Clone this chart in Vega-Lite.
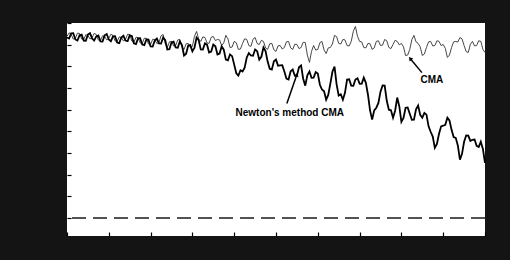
{
  "$schema": "https://vega.github.io/schema/vega-lite/v6.json",
  "width": 418,
  "height": 213,
  "autosize": {"type": "none"},
  "padding": {"left": 67, "top": 23, "right": 25, "bottom": 24},
  "background": "#141414",
  "config": {
    "view": {"fill": "white", "stroke": null},
    "font": "Liberation Sans",
    "axis": {"labels": false, "domain": false, "grid": false, "tickSize": -4, "tickColor": "#000", "tickWidth": 1.2, "title": null, "tickCount": 10}
  },
  "datasets": {
    "series": [
      {"x":0,"CMA":8.38,"Newton":8.33},{"x":1,"CMA":8.47,"Newton":8.52},{"x":2,"CMA":8.29,"Newton":8.24},{"x":3,"CMA":8.52,"Newton":8.43},
      {"x":4,"CMA":8.24,"Newton":8.19},{"x":5,"CMA":8.43,"Newton":8.47},{"x":6,"CMA":8.33,"Newton":8.29},{"x":7,"CMA":8.47,"Newton":8.38},
      {"x":8,"CMA":8.19,"Newton":8.15},{"x":9,"CMA":8.38,"Newton":8.43},{"x":10,"CMA":8.29,"Newton":8.24},{"x":11,"CMA":8.43,"Newton":8.38},
      {"x":12,"CMA":8.15,"Newton":8.10},{"x":13,"CMA":8.33,"Newton":8.33},{"x":14,"CMA":8.24,"Newton":8.19},{"x":15,"CMA":8.47,"Newton":8.43},
      {"x":16,"CMA":8.10,"Newton":8.06},{"x":17,"CMA":8.33,"Newton":8.29},{"x":18,"CMA":8.06,"Newton":8.01},{"x":19,"CMA":8.29,"Newton":8.24},
      {"x":20,"CMA":8.01,"Newton":7.92},{"x":21,"CMA":8.24,"Newton":8.19},{"x":22,"CMA":8.10,"Newton":8.06},{"x":23,"CMA":8.47,"Newton":8.33},
      {"x":24,"CMA":7.87,"Newton":7.78},{"x":25,"CMA":8.15,"Newton":8.10},{"x":26,"CMA":7.96,"Newton":7.87},{"x":27,"CMA":8.24,"Newton":8.15},
      {"x":28,"CMA":7.78,"Newton":7.50},{"x":29,"CMA":8.06,"Newton":7.96},{"x":30,"CMA":7.92,"Newton":7.69},{"x":31,"CMA":8.61,"Newton":8.33},
      {"x":32,"CMA":8.15,"Newton":7.78},{"x":33,"CMA":8.33,"Newton":8.06},{"x":34,"CMA":8.06,"Newton":7.64},{"x":35,"CMA":8.38,"Newton":8.01},
      {"x":36,"CMA":8.24,"Newton":7.55},{"x":37,"CMA":7.96,"Newton":7.92},{"x":38,"CMA":8.43,"Newton":7.31},{"x":39,"CMA":7.87,"Newton":7.55},
      {"x":40,"CMA":8.15,"Newton":7.08},{"x":41,"CMA":7.78,"Newton":6.57},{"x":42,"CMA":8.06,"Newton":6.76},{"x":43,"CMA":8.24,"Newton":7.41},
      {"x":44,"CMA":7.92,"Newton":7.50},{"x":45,"CMA":8.33,"Newton":7.78},{"x":46,"CMA":8.01,"Newton":7.31},{"x":47,"CMA":8.15,"Newton":7.87},
      {"x":48,"CMA":7.78,"Newton":7.22},{"x":49,"CMA":8.06,"Newton":6.85},{"x":50,"CMA":7.69,"Newton":7.31},{"x":51,"CMA":7.96,"Newton":7.04},
      {"x":52,"CMA":7.87,"Newton":6.76},{"x":53,"CMA":8.15,"Newton":6.39},{"x":54,"CMA":7.78,"Newton":6.85},{"x":55,"CMA":8.01,"Newton":6.57},
      {"x":56,"CMA":7.87,"Newton":7.04},{"x":57,"CMA":8.10,"Newton":6.11},{"x":58,"CMA":7.18,"Newton":6.76},{"x":59,"CMA":7.96,"Newton":6.48},
      {"x":60,"CMA":7.78,"Newton":6.67},{"x":61,"CMA":8.15,"Newton":5.93},{"x":62,"CMA":7.59,"Newton":5.46},{"x":63,"CMA":7.87,"Newton":6.20},
      {"x":64,"CMA":8.43,"Newton":6.99},{"x":65,"CMA":8.06,"Newton":5.65},{"x":66,"CMA":8.24,"Newton":5.46},{"x":67,"CMA":7.96,"Newton":6.39},
      {"x":68,"CMA":8.15,"Newton":6.11},{"x":69,"CMA":8.84,"Newton":6.39},{"x":70,"CMA":8.15,"Newton":6.20},{"x":71,"CMA":7.87,"Newton":6.48},
      {"x":72,"CMA":8.06,"Newton":5.69},{"x":73,"CMA":7.78,"Newton":4.54},{"x":74,"CMA":8.15,"Newton":5.09},{"x":75,"CMA":7.96,"Newton":5.83},
      {"x":76,"CMA":8.24,"Newton":6.11},{"x":77,"CMA":7.87,"Newton":5.00},{"x":78,"CMA":8.01,"Newton":4.63},{"x":79,"CMA":8.15,"Newton":5.56},
      {"x":80,"CMA":8.06,"Newton":4.44},{"x":81,"CMA":7.50,"Newton":5.09},{"x":82,"CMA":7.78,"Newton":4.81},{"x":83,"CMA":8.43,"Newton":4.54},
      {"x":84,"CMA":8.06,"Newton":5.19},{"x":85,"CMA":7.50,"Newton":4.63},{"x":86,"CMA":7.87,"Newton":4.77},{"x":87,"CMA":8.15,"Newton":3.98},
      {"x":88,"CMA":7.96,"Newton":3.24},{"x":89,"CMA":8.15,"Newton":3.89},{"x":90,"CMA":8.01,"Newton":4.26},{"x":91,"CMA":7.41,"Newton":4.63},
      {"x":92,"CMA":7.87,"Newton":4.07},{"x":93,"CMA":8.15,"Newton":3.70},{"x":94,"CMA":8.33,"Newton":2.69},{"x":95,"CMA":7.96,"Newton":3.52},
      {"x":96,"CMA":7.64,"Newton":3.80},{"x":97,"CMA":8.15,"Newton":3.61},{"x":98,"CMA":7.96,"Newton":3.33},{"x":99,"CMA":8.15,"Newton":3.52},
      {"x":100,"CMA":7.64,"Newton":2.55},
      {"x":0.5,"CMA":8.55,"Newton":8.28},{"x":1.5,"CMA":8.26,"Newton":8.53},{"x":2.5,"CMA":8.53,"Newton":8.19},{"x":3.5,"CMA":8.26,"Newton":8.46},
      {"x":4.5,"CMA":8.46,"Newton":8.18},{"x":5.5,"CMA":8.26,"Newton":8.53},{"x":6.5,"CMA":8.52,"Newton":8.19},{"x":7.5,"CMA":8.21,"Newton":8.42},
      {"x":8.5,"CMA":8.41,"Newton":8.14},{"x":9.5,"CMA":8.22,"Newton":8.49},{"x":10.5,"CMA":8.48,"Newton":8.16},{"x":11.5,"CMA":8.17,"Newton":8.39},
      {"x":12.5,"CMA":8.36,"Newton":8.07},{"x":13.5,"CMA":8.17,"Newton":8.41},{"x":14.5,"CMA":8.48,"Newton":8.16},{"x":15.5,"CMA":8.17,"Newton":8.40},
      {"x":16.5,"CMA":8.34,"Newton":8.03},{"x":17.5,"CMA":8.08,"Newton":8.30},{"x":18.5,"CMA":8.30,"Newton":7.98},{"x":19.5,"CMA":8.03,"Newton":8.23},
      {"x":20.5,"CMA":8.25,"Newton":7.91},{"x":21.5,"CMA":8.05,"Newton":8.28},{"x":22.5,"CMA":8.41,"Newton":8.05},{"x":23.5,"CMA":8.05,"Newton":8.21},
      {"x":24.5,"CMA":8.13,"Newton":7.79},{"x":25.5,"CMA":7.94,"Newton":8.14},{"x":26.5,"CMA":8.22,"Newton":7.86},{"x":27.5,"CMA":7.89,"Newton":7.98},
      {"x":28.5,"CMA":8.04,"Newton":7.58},{"x":29.5,"CMA":7.87,"Newton":7.98},{"x":30.5,"CMA":8.39,"Newton":7.86},{"x":31.5,"CMA":8.26,"Newton":8.21},
      {"x":32.5,"CMA":8.36,"Newton":7.77},{"x":33.5,"CMA":8.08,"Newton":8.00},{"x":34.5,"CMA":8.34,"Newton":7.68},{"x":35.5,"CMA":8.19,"Newton":7.93},
      {"x":36.5,"CMA":8.22,"Newton":7.59},{"x":37.5,"CMA":8.08,"Newton":7.77},{"x":38.5,"CMA":8.27,"Newton":7.28},{"x":39.5,"CMA":7.89,"Newton":7.47},
      {"x":40.5,"CMA":8.09,"Newton":6.68},{"x":41.5,"CMA":7.80,"Newton":6.82},{"x":42.5,"CMA":8.27,"Newton":6.94},{"x":43.5,"CMA":7.96,"Newton":7.61},
      {"x":44.5,"CMA":8.25,"Newton":7.49},{"x":45.5,"CMA":8.05,"Newton":7.70},{"x":46.5,"CMA":8.20,"Newton":7.44},{"x":47.5,"CMA":7.85,"Newton":7.70},
      {"x":48.5,"CMA":8.04,"Newton":6.89},{"x":49.5,"CMA":7.76,"Newton":7.23},{"x":50.5,"CMA":7.95,"Newton":7.03},{"x":51.5,"CMA":7.80,"Newton":7.05},
      {"x":52.5,"CMA":8.13,"Newton":6.43},{"x":53.5,"CMA":7.85,"Newton":6.77},{"x":54.5,"CMA":8.02,"Newton":6.56},{"x":55.5,"CMA":7.82,"Newton":6.96},
      {"x":56.5,"CMA":8.11,"Newton":6.43},{"x":57.5,"CMA":7.52,"Newton":6.59},{"x":58.5,"CMA":7.69,"Newton":6.47},{"x":59.5,"CMA":7.75,"Newton":6.73},
      {"x":60.5,"CMA":8.09,"Newton":6.15},{"x":61.5,"CMA":7.75,"Newton":5.85},{"x":62.5,"CMA":7.85,"Newton":5.68},{"x":63.5,"CMA":8.03,"Newton":6.75},
      {"x":64.5,"CMA":8.37,"Newton":6.17},{"x":65.5,"CMA":8.03,"Newton":5.71},{"x":66.5,"CMA":8.22,"Newton":5.78},{"x":67.5,"CMA":7.94,"Newton":6.40},
      {"x":68.5,"CMA":8.62,"Newton":6.10},{"x":69.5,"CMA":8.38,"Newton":6.45},{"x":70.5,"CMA":8.13,"Newton":6.19},{"x":71.5,"CMA":7.85,"Newton":6.24},
      {"x":72.5,"CMA":8.04,"Newton":4.97},{"x":73.5,"CMA":7.85,"Newton":4.97},{"x":74.5,"CMA":8.18,"Newton":5.31},{"x":75.5,"CMA":7.98,"Newton":6.12},
      {"x":76.5,"CMA":8.18,"Newton":5.41},{"x":77.5,"CMA":7.82,"Newton":4.97},{"x":78.5,"CMA":8.20,"Newton":4.95},{"x":79.5,"CMA":7.99,"Newton":5.15},
      {"x":80.5,"CMA":7.90,"Newton":4.62},{"x":81.5,"CMA":7.52,"Newton":5.10},{"x":82.5,"CMA":8.23,"Newton":4.53},{"x":83.5,"CMA":8.13,"Newton":5.02},
      {"x":84.5,"CMA":7.90,"Newton":4.76},{"x":85.5,"CMA":7.57,"Newton":4.85},{"x":86.5,"CMA":8.13,"Newton":4.23},{"x":87.5,"CMA":7.94,"Newton":3.76},
      {"x":88.5,"CMA":8.18,"Newton":3.42},{"x":89.5,"CMA":7.96,"Newton":4.23},{"x":90.5,"CMA":7.83,"Newton":4.30},{"x":91.5,"CMA":7.52,"Newton":4.50},
      {"x":92.5,"CMA":8.13,"Newton":3.74},{"x":93.5,"CMA":8.12,"Newton":3.35},{"x":94.5,"CMA":8.27,"Newton":2.96},{"x":95.5,"CMA":7.68,"Newton":3.81},
      {"x":96.5,"CMA":8.02,"Newton":3.56},{"x":97.5,"CMA":7.94,"Newton":3.62},{"x":98.5,"CMA":8.18,"Newton":3.28},{"x":99.5,"CMA":7.78,"Newton":3.19}
    ],
    "baseline": [{"y": 0}],
    "labels": [
      {"x": 87.3, "y": 6.39, "label": "CMA"},
      {"x": 53.3, "y": 4.86, "label": "Newton's method CMA"}
    ],
    "arrows": [
      {"name": "cma", "x": 84.9, "y": 6.71, "x2": 82.1, "y2": 7.36},
      {"name": "newton", "x": 52.6, "y": 5.28, "x2": 55.0, "y2": 6.62}
    ]
  },
  "layer": [
    {
      "data": {"name": "baseline"},
      "mark": {"type": "rule", "strokeDash": [14, 7], "stroke": "#1a1a1a", "strokeWidth": 1.4},
      "encoding": {
        "y": {"field": "y", "type": "quantitative", "scale": {"domain": [-0.83, 9], "nice": false, "zero": false}}
      }
    },
    {
      "data": {"name": "series"},
      "mark": {"type": "line", "stroke": "#333", "strokeWidth": 0.9},
      "encoding": {
        "x": {"field": "x", "type": "quantitative", "scale": {"domain": [0, 100], "nice": false}},
        "y": {"field": "CMA", "type": "quantitative"}
      }
    },
    {
      "data": {"name": "series"},
      "mark": {"type": "line", "stroke": "#000", "strokeWidth": 1.8},
      "encoding": {
        "x": {"field": "x", "type": "quantitative"},
        "y": {"field": "Newton", "type": "quantitative"}
      }
    },
    {
      "data": {"name": "arrows"},
      "mark": {"type": "rule", "stroke": "#000", "strokeWidth": 1.5},
      "encoding": {
        "x": {"field": "x", "type": "quantitative"},
        "y": {"field": "y", "type": "quantitative"},
        "x2": {"field": "x2"},
        "y2": {"field": "y2"}
      }
    },
    {
      "data": {"name": "arrows"},
      "transform": [{"filter": "datum.name === 'cma'"}],
      "mark": {"type": "point", "shape": "triangle-up", "filled": true, "color": "#000", "size": 22, "angle": 320, "opacity": 1},
      "encoding": {
        "x": {"field": "x2", "type": "quantitative"},
        "y": {"field": "y2", "type": "quantitative"}
      }
    },
    {
      "data": {"name": "arrows"},
      "transform": [{"filter": "datum.name === 'newton'"}],
      "mark": {"type": "point", "shape": "triangle-up", "filled": true, "color": "#000", "size": 22, "angle": 19, "opacity": 1},
      "encoding": {
        "x": {"field": "x2", "type": "quantitative"},
        "y": {"field": "y2", "type": "quantitative"}
      }
    },
    {
      "data": {"name": "labels"},
      "mark": {"type": "text", "fontSize": 10, "fontWeight": "bold", "color": "#000", "align": "center", "baseline": "middle"},
      "encoding": {
        "x": {"field": "x", "type": "quantitative"},
        "y": {"field": "y", "type": "quantitative"},
        "text": {"field": "label"}
      }
    }
  ]
}
